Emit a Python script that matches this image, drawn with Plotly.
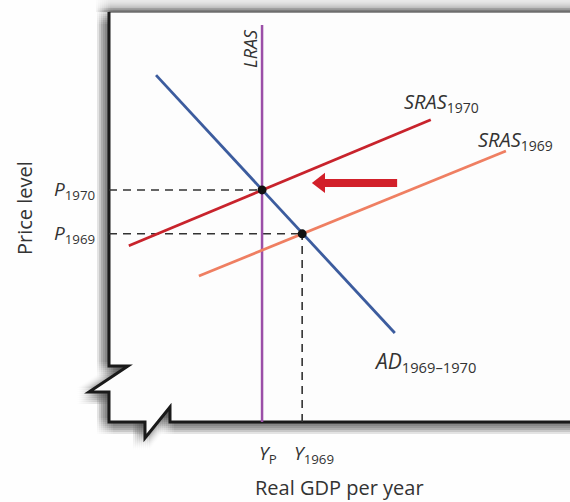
import plotly.graph_objects as go

# ---- data (arbitrary units: real GDP 0-100, price level 0-100) ----
ad_x = [10.2, 62.0]
ad_y = [84.6, 21.7]
sras1970_x = [4.3, 69.8]
sras1970_y = [43.0, 73.7]
sras1969_x = [19.5, 86.1]
sras1969_y = [35.6, 66.1]
lras_x = [33.2, 33.2]
lras_y = [0.0, 96.8]
eq_x = [33.2, 41.9]          # Y_P, Y_1969
eq_y = [56.6, 45.9]          # P_1970, P_1969
price_labels = ["<i>P</i><sub>1970</sub>", "<i>P</i><sub>1969</sub>"]
gdp_labels = ["<i>Y</i><sub>P</sub>", "<i>Y</i><sub>1969</sub>"]
arrow_x = [62.5, 46.5]       # shift arrow body (from -> to)
arrow_head_x = [45.9]
arrow_y = [58.3, 58.3]

W, H = 570, 502
L, R, T, B = 109, 0, 12, 80
PW, PH = W - L - R, H - T - B

def X(px):
    return (px - L) / PW

def Y(py):
    return (H - B - py) / PH

def path(points, close=False, dx=0, dy=0):
    s = "M " + " L ".join(f"{X(a + dx):.5f},{Y(b + dy):.5f}" for a, b in points)
    return s + (" Z" if close else "")

FONT = "Open Sans"
TXT = "#333333"

fig = go.Figure()

# dashed guide lines
for i in range(2):
    fig.add_trace(go.Scatter(x=[0, eq_x[i]], y=[eq_y[i], eq_y[i]], mode="lines",
                             line=dict(color="#333333", width=1.6, dash="8px,6px"),
                             hoverinfo="skip", showlegend=False))
fig.add_trace(go.Scatter(x=[eq_x[1], eq_x[1]], y=[0, eq_y[1]], mode="lines",
                         line=dict(color="#333333", width=1.6, dash="8px,6px"),
                         hoverinfo="skip", showlegend=False))

fig.add_trace(go.Scatter(x=lras_x, y=lras_y, mode="lines",
                         line=dict(color="#9b4fa8", width=2.5), showlegend=False))
fig.add_trace(go.Scatter(x=sras1969_x, y=sras1969_y, mode="lines",
                         line=dict(color="#ef7f62", width=2.8), showlegend=False))
fig.add_trace(go.Scatter(x=sras1970_x, y=sras1970_y, mode="lines",
                         line=dict(color="#c8232c", width=2.8), showlegend=False))
fig.add_trace(go.Scatter(x=ad_x, y=ad_y, mode="lines",
                         line=dict(color="#3c5c9e", width=2.8), showlegend=False))
fig.add_trace(go.Scatter(x=eq_x, y=eq_y, mode="markers",
                         marker=dict(color="#111111", size=9), showlegend=False))
# shift arrow
fig.add_trace(go.Scatter(x=arrow_x, y=arrow_y, mode="lines",
                         line=dict(color="#d2202a", width=8), showlegend=False))
fig.add_trace(go.Scatter(x=arrow_head_x, y=arrow_y[:1], mode="markers",
                         marker=dict(color="#d2202a", size=17.5, symbol="triangle-left",
                                     line=dict(width=0)), showlegend=False))

# ---- decorations: shadow, box, broken axes ----
outline = [(109, 12), (109, 366), (128, 366), (89, 392), (109, 392),
           (109, 422), (145, 422), (145, 438), (170, 407), (170, 422), (640, 422)]
box = outline + [(640, 12)]
shapes = []
# top shadow band (fades in at its left end)
for i in range(12):
    g = int(232 - (232 - 150) * (i / 11) ** 1.6)
    for k, x0 in enumerate(range(96, 110, 2)):
        a = (k + 1) / 8
        shapes.append(dict(type="rect", xref="paper", yref="paper", layer="below",
                           x0=X(x0), x1=X(x0 + 2), y0=Y(i), y1=Y(i + 1),
                           line=dict(width=0),
                           fillcolor=f"rgba({g},{g},{g},{a:.3f})"))
    shapes.append(dict(type="rect", xref="paper", yref="paper", layer="below",
                       x0=X(110), x1=X(640), y0=Y(i), y1=Y(i + 1),
                       line=dict(width=0), fillcolor=f"rgb({g},{g},{g})"))
# soft drop shadow: many faint shifted copies of the box silhouette
for dx in range(-12, 5, 2):
    for dy in range(-4, 13, 2):
        shapes.append(dict(type="path", xref="paper", yref="paper", layer="below",
                           path=path(box, True, dx, dy), line=dict(width=0),
                           fillcolor="rgba(0,0,0,0.012)"))
# white box interior
shapes.append(dict(type="path", xref="paper", yref="paper", layer="below",
                   path=path(box, True), line=dict(width=0), fillcolor="#fdfdfd"))
# top edge
shapes.append(dict(type="line", xref="paper", yref="paper", layer="below",
                   x0=X(109), x1=X(640), y0=Y(12), y1=Y(12),
                   line=dict(color="#6e6e6e", width=1.5)))
# black axes with break marks
shapes.append(dict(type="path", xref="paper", yref="paper", layer="below",
                   path=path(outline), line=dict(color="#1a1a1a", width=3)))

def label(text, x, y, size, xref="paper", yref="paper", xanchor="center", **kw):
    return dict(text=text, xref=xref, yref=yref, x=x, y=y, xanchor=xanchor,
                yanchor="middle", showarrow=False,
                font=dict(family=FONT, size=size, color=TXT), **kw)

ann = [
    label("Price level", X(24), Y(208), 20, textangle=-90),
    label("Real GDP per year", X(339), Y(488), 20),
    label("<i>LRAS</i>", X(250), Y(49), 18, textangle=-90),
    label("<i>SRAS</i><sub>1970</sub>", X(402), Y(103), 20, xanchor="left"),
    label("<i>SRAS</i><sub>1969</sub>", X(476), Y(140), 20, xanchor="left"),
    label("<i>AD</i><sub>1969–1970</sub>", X(372), Y(362), 21, xanchor="left"),
]
for i in range(2):
    ann.append(label(price_labels[i], X(97), eq_y[i], 19, yref="y", xanchor="right"))
for i, sh in enumerate([-5, -10]):
    ann.append(label(gdp_labels[i], eq_x[i], Y(454), 19, xref="x", xanchor="left",
                     xshift=sh))

fig.update_layout(
    width=W, height=H, margin=dict(l=L, r=R, t=T, b=B),
    paper_bgcolor="#fefefe", plot_bgcolor="rgba(0,0,0,0)",
    xaxis=dict(range=[0, 100], visible=False, fixedrange=True),
    yaxis=dict(range=[0, 100], visible=False, fixedrange=True),
    shapes=shapes, annotations=ann, showlegend=False,
)
fig.write_html("out.html", config={"displayModeBar": False},
               post_script="document.body.style.margin='0';document.body.style.padding='0';")
